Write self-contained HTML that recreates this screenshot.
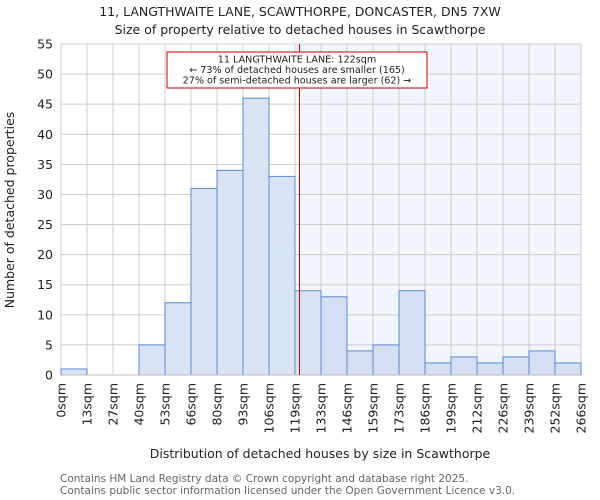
<!DOCTYPE html>
<html><head><meta charset="utf-8"><style>
body{margin:0;background:#fff;}
svg{display:block;font-family:"DejaVu Sans","Liberation Sans",sans-serif;}
</style></head><body>
<svg id="chart" width="600" height="500" viewBox="0 0 600 500">
<text x="300" y="16" text-anchor="middle" font-size="12.5" fill="#222">11, LANGTHWAITE LANE, SCAWTHORPE, DONCASTER, DN5 7XW</text>
<text x="300" y="34" text-anchor="middle" font-size="12.5" fill="#222">Size of property relative to detached houses in Scawthorpe</text>
<g id="grid"></g>
<g id="bars"></g>
<g id="axes"></g>
<text transform="translate(14,210) rotate(-90)" text-anchor="middle" font-size="12.5" fill="#222">Number of detached properties</text>
<text x="320" y="458" text-anchor="middle" font-size="12.5" fill="#222">Distribution of detached houses by size in Scawthorpe</text>
<text x="60" y="482" font-size="10.5" fill="#666">Contains HM Land Registry data © Crown copyright and database right 2025.</text>
<text x="60" y="494" font-size="10.5" fill="#666">Contains public sector information licensed under the Open Government Licence v3.0.</text>
</svg>
<script>
const binLabels=["0sqm","13sqm","27sqm","40sqm","53sqm","66sqm","80sqm","93sqm","106sqm","119sqm","133sqm","146sqm","159sqm","173sqm","186sqm","199sqm","212sqm","226sqm","239sqm","252sqm","266sqm"];
const binEdges=[0,13.3,26.6,39.9,53.2,66.5,79.8,93.1,106.4,119.7,133,146.3,159.6,172.9,186.2,199.5,212.8,226.1,239.4,252.7,266];
const counts=[1,0,0,5,12,31,34,46,33,14,13,4,5,14,2,3,2,3,4,2];
const yTicks=[0,5,10,15,20,25,30,35,40,45,50,55];
const subjectSize=122;
const annotationLines=["11 LANGTHWAITE LANE: 122sqm","← 73% of detached houses are smaller (165)","27% of semi-detached houses are larger (62) →"];

const NS="http://www.w3.org/2000/svg";
const X0=61,X1=581,Y0=375,Y1=44,YMAX=55;
const xMin=binEdges[0],xMax=binEdges[binEdges.length-1];
const xs=v=>X0+(v-xMin)/(xMax-xMin)*(X1-X0);
const ys=v=>Y0-v/YMAX*(Y0-Y1);
function mk(tag,attrs,parent){const e=document.createElementNS(NS,tag);for(const k in attrs)e.setAttribute(k,attrs[k]);parent.appendChild(e);return e;}
const grid=document.getElementById('grid'),bars=document.getElementById('bars'),axes=document.getElementById('axes');
const svg=document.getElementById('chart');
const sx=xs(subjectSize);
const shade=mk('rect',{x:sx,y:Y1,width:X1-sx,height:Y0-Y1,fill:'#f2f5fc'},grid);


yTicks.forEach(t=>{
  const l=mk('line',{x1:X0,x2:X1,y1:ys(t),y2:ys(t),stroke:'#cccccc','stroke-width':1},grid);
  
  
  const tx=mk('text',{x:X0-8,y:ys(t)+4.5,'text-anchor':'end','font-size':12.5,fill:'#222'},axes);
  tx.textContent=t;
  
  
});
binEdges.forEach((e,i)=>{
  const l=mk('line',{x1:xs(e),x2:xs(e),y1:Y1,y2:Y0,stroke:'#cccccc','stroke-width':1},grid);
  
  
  const x=xs(e)+4.5,y=Y0+8;
  const tx=mk('text',{x:x,y:y,transform:`rotate(-90 ${x} ${y})`,'text-anchor':'end','font-size':12.5,fill:'#222'},axes);
  tx.textContent=binLabels[i];
  
  
});
counts.forEach((c,i)=>{
  const x=xs(binEdges[i]),w=xs(binEdges[i+1])-x;
  const r=mk('rect',{x:x,y:ys(c),width:w,height:Y0-ys(c),fill:binEdges[i]>=subjectSize?'#d5dff2':'#dae3f3',stroke:'#5a8ad4','stroke-width':1},bars);
  
  
});
const ax=mk('line',{x1:X0,x2:X1,y1:Y0,y2:Y0,stroke:'#bbbbbb','stroke-width':1},axes);


const ml=mk('line',{x1:sx,x2:sx,y1:Y1,y2:Y0,stroke:'#cc0000','stroke-width':1},svg);


const box=mk('rect',{x:167,y:52,width:260,height:36,fill:'#fff',stroke:'#cc0000','stroke-width':1},svg);


annotationLines.forEach((s,i)=>{
  const t=mk('text',{x:297,y:62.5+i*10.5,'text-anchor':'middle','font-size':9.6,fill:'#222'},svg);
  t.textContent=s;
  
  
});
</script>
</body></html>
